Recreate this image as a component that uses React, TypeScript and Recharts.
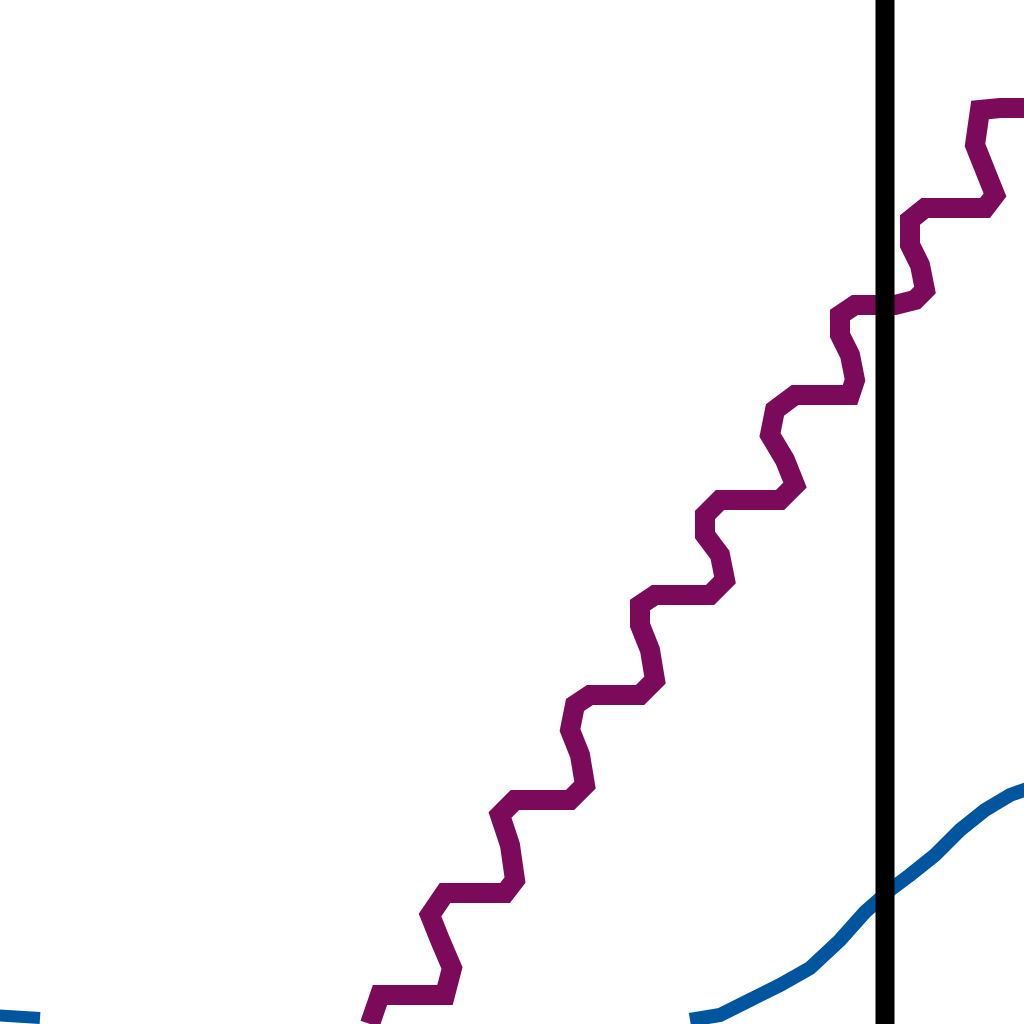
import { LineChart, Line, XAxis, YAxis, ReferenceLine } from 'recharts'

const purpleX = [370, 380, 445, 452, 440, 430, 445, 505, 515, 510, 500, 515, 570, 585, 580, 570, 575, 590, 640, 655, 650, 640, 640, 655, 710, 725, 720, 705, 705, 720, 780, 795, 785, 770, 775, 795, 850, 855, 850, 840, 840, 855, 895, 915, 925, 920, 910, 910, 925, 985, 995, 985, 975, 980, 1000, 1030]
const purpleY = [0, 29, 29, 56, 84, 109, 131, 131, 144, 179, 209, 224, 224, 239, 269, 294, 319, 329, 329, 344, 374, 399, 419, 429, 429, 444, 469, 489, 509, 524, 524, 539, 564, 589, 614, 629, 629, 644, 669, 689, 709, 719, 719, 724, 734, 759, 779, 804, 816, 816, 829, 854, 879, 914, 916, 916]

const blueLeftX = [-10, 40]
const blueLeftY = [9, 6]
const blueX = [690, 720, 750, 780, 810, 840, 865, 890, 910, 935, 960, 985, 1010, 1030]
const blueY = [4, 9, 24, 39, 56, 84, 112, 134, 149, 169, 194, 214, 229, 236]

const marker = 885

const toPoints = (xs: number[], ys: number[]) => xs.map((x, i) => ({ x, y: ys[i] }))

export default function App() {
  return (
    <div style={{ position: 'fixed', left: 0, top: 0, width: 1024, height: 1024, background: '#fff' }}>
      <LineChart width={1024} height={1024} margin={{ top: 0, right: 0, bottom: 0, left: 0 }}>
        <XAxis type="number" dataKey="x" domain={[0, 1024]} hide allowDataOverflow />
        <YAxis type="number" dataKey="y" domain={[0, 1024]} hide allowDataOverflow />
        <Line data={toPoints(purpleX, purpleY)} dataKey="y" stroke="#7b0a5a" strokeWidth={20} dot={false} isAnimationActive={false} />
        <Line data={toPoints(blueLeftX, blueLeftY)} dataKey="y" stroke="#00569e" strokeWidth={12} dot={false} isAnimationActive={false} />
        <Line data={toPoints(blueX, blueY)} dataKey="y" stroke="#00569e" strokeWidth={14} dot={false} isAnimationActive={false} />
        <ReferenceLine x={marker} stroke="#000" strokeWidth={19} />
      </LineChart>
    </div>
  )
}
